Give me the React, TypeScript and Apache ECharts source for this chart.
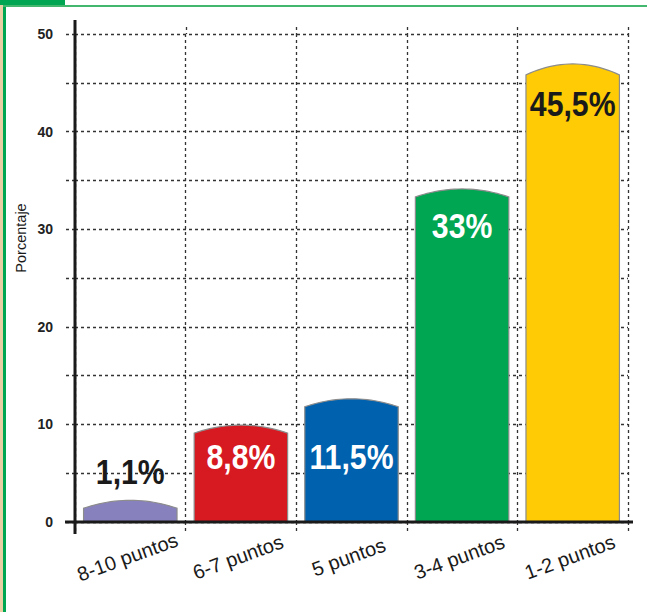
import React, { useEffect, useRef } from "react";
import * as echarts from "echarts";

// ---- data ----
const categories = ["8-10 puntos", "6-7 puntos", "5 puntos", "3-4 puntos", "1-2 puntos"];
const values = [1.1, 8.8, 11.5, 33, 45.5];
const yTicks = [0, 10, 20, 30, 40, 50];
const yAxisTitle = "Porcentaje";

// ---- styling ----
const barColors = ["#8781BD", "#D71A21", "#0061AE", "#00A651", "#FFCB05"];
const W = 647;
const H = 612;
const GRID = { left: 75, top: 34, right: 19, bottom: 90 };
const BAR_RATIO = 0.845;
const SANS = '"Liberation Sans", Arial, Helvetica, sans-serif';

function isLight(hex: string) {
  const r = parseInt(hex.slice(1, 3), 16);
  const g = parseInt(hex.slice(3, 5), 16);
  const b = parseInt(hex.slice(5, 7), 16);
  return 0.299 * r + 0.587 * g + 0.114 * b > 170;
}

function fmt(v: number) {
  return String(v).replace(".", ",") + "%";
}

export default function App() {
  const ref = useRef<HTMLDivElement>(null);

  useEffect(() => {
    document.body.style.margin = "0";
    const chart = echarts.init(ref.current!, null, { renderer: "svg" });
    const plotL = GRID.left;
    const plotR = W - GRID.right;
    const plotT = GRID.top;
    const plotB = H - GRID.bottom;
    const catW = (plotR - plotL) / categories.length;

    const dashColor = "#333333";

    const graphic: any[] = [
      // frame
      { type: "rect", shape: { x: 0, y: 0, width: 3, height: H }, style: { fill: "#E9CFA3" }, z: 200 },
      { type: "rect", shape: { x: 3, y: 5, width: 3, height: H - 5 }, style: { fill: "#00A651" }, z: 200 },
      { type: "rect", shape: { x: 3, y: 5, width: W - 3, height: 2 }, style: { fill: "#43B76E" }, z: 200 },
      { type: "rect", shape: { x: 0, y: 0, width: 65, height: 5 }, style: { fill: "#00A651" }, z: 201 },
      // axis title
      {
        type: "text",
        x: 21,
        y: 238,
        rotation: Math.PI / 2,
        style: {
          text: yAxisTitle,
          fontSize: 14.5,
          fontFamily: SANS,
          fill: "#1a1a1a",
          align: "center",
          verticalAlign: "middle",
        },
        z: 100,
      },
    ];
    // vertical dashed extensions above plot top
    for (let k = 1; k <= categories.length; k++) {
      const x = Math.round(plotL + catW * k) + 0.5;
      graphic.push({
        type: "line",
        shape: { x1: x, y1: plotT - 7, x2: x, y2: plotT },
        style: { stroke: dashColor, lineWidth: 1.3, lineDash: [3, 3] },
        z: 50,
      });
    }
    // axis lines
    graphic.push({
      type: "line",
      shape: { x1: plotL, y1: 20, x2: plotL, y2: plotB + 12 },
      style: { stroke: "#1a1a1a", lineWidth: 3 },
      z: 100,
    });
    graphic.push({
      type: "line",
      shape: { x1: plotL - 10, y1: plotB, x2: plotR + 5, y2: plotB },
      style: { stroke: "#1a1a1a", lineWidth: 3 },
      z: 100,
    });

    chart.setOption({
      animation: false,
      backgroundColor: "#ffffff",
      grid: { left: GRID.left, right: GRID.right, top: GRID.top, bottom: GRID.bottom, containLabel: false },
      xAxis: {
        type: "category",
        data: categories,
        boundaryGap: true,
        axisLine: { show: false },
        axisTick: {
          show: true,
          alignWithLabel: false,
          length: 12,
          lineStyle: { color: dashColor, width: 1.3, type: [3, 3] },
        },
        splitLine: {
          show: true,
          lineStyle: { color: dashColor, width: 1.3, type: [3, 3] },
        },
        axisLabel: {
          rotate: 20,
          align: "center",
          verticalAlign: "middle",
          margin: 34,
          padding: [0, 6, 0, 0],
          fontSize: 20,
          fontFamily: SANS,
          color: "#1a1a1a",
        },
      },
      yAxis: {
        type: "value",
        min: 0,
        max: yTicks[yTicks.length - 1],
        interval: 5,
        axisLine: { show: false },
        axisTick: {
          show: true,
          length: 10,
          lineStyle: { color: dashColor, width: 1.3, type: [3, 3] },
        },
        splitLine: {
          show: true,
          lineStyle: { color: dashColor, width: 1.3, type: [3, 3] },
        },
        axisLabel: {
          margin: 22,
          fontSize: 14,
          fontWeight: "bold",
          fontFamily: SANS,
          color: "#222",
          formatter: (v: number) => (yTicks.indexOf(v) >= 0 ? String(v) : ""),
        },
      },
      series: [
        {
          type: "custom",
          data: values.map((v, i) => [i, v]),
          encode: { x: 0, y: 1 },
          z: 10,
          renderItem: (params: any, api: any) => {
            const i = api.value(0);
            const v = api.value(1);
            const [cx, yv] = api.coord([i, v]);
            const y0 = api.coord([i, 0])[1];
            const bw = api.size([1, 0])[0] * BAR_RATIO;
            const x0 = cx - bw / 2;
            const x1 = cx + bw / 2;
            const ys = yv - 3;
            const bump = v > 40 ? 11 : 8;
            const pts: number[][] = [[x0, y0], [x0, ys]];
            const N = 24;
            for (let k = 1; k < N; k++) {
              const t = k / N;
              pts.push([x0 + (x1 - x0) * t, ys - bump * 4 * t * (1 - t)]);
            }
            pts.push([x1, ys], [x1, y0]);
            const color = barColors[i % barColors.length];
            const fits = v >= 5;
            let labelY: number;
            if (!fits) labelY = ys - bump - 29;
            else if (v > 20) labelY = yv + 26;
            else labelY = api.coord([i, 6.7])[1];
            const textColor = fits && !isLight(color) ? "#ffffff" : "#1a1a1a";
            return {
              type: "group",
              children: [
                {
                  type: "polygon",
                  shape: { points: pts },
                  style: { fill: color, stroke: "#8c8c8c", lineWidth: 1.2 },
                },
                {
                  type: "text",
                  x: cx,
                  y: labelY,
                  scaleX: 0.84,
                  style: {
                    text: fmt(v),
                    fontSize: 36,
                    fontWeight: "bold",
                    fontFamily: SANS,
                    fill: textColor,
                    align: "center",
                    verticalAlign: "middle",
                  },
                },
              ],
            };
          },
        },
      ],
      graphic,
    });

    return () => chart.dispose();
  }, []);

  return (
    <div
      ref={ref}
      style={{ position: "absolute", left: 0, top: 0, width: W, height: H }}
    />
  );
}
